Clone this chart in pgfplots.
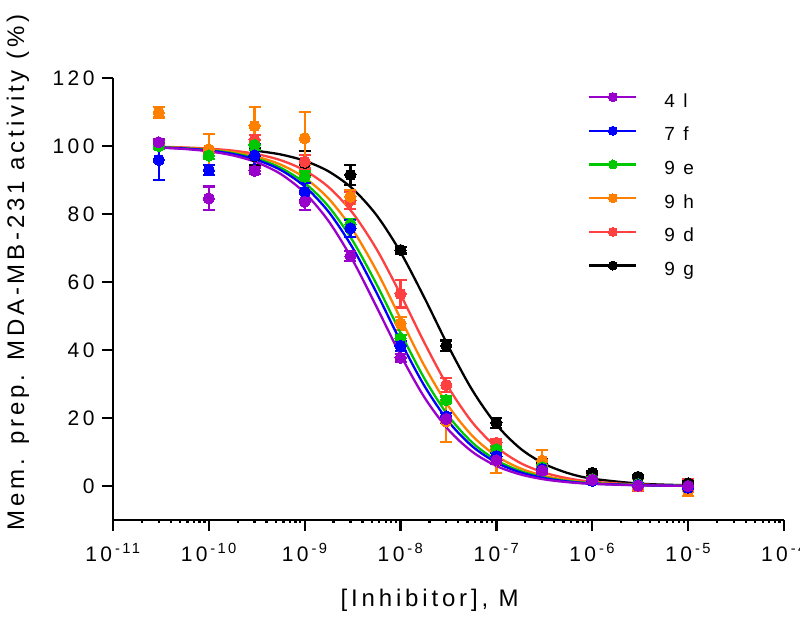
\documentclass[border=0pt]{standalone}
\usepackage{fontspec}
\setmainfont{Liberation Sans}[LetterSpace=16]
\usepackage{pgfplots}
\usepackage{pgfplotstable}
\pgfplotsset{compat=1.18}

\definecolor{cP}{RGB}{153,0,204}
\definecolor{cB}{RGB}{0,0,255}
\definecolor{cG}{RGB}{0,200,0}
\definecolor{cO}{RGB}{255,128,0}
\definecolor{cR}{RGB}{255,64,64}
\definecolor{cK}{RGB}{0,0,0}

% fitted curves
\pgfplotstableread{
x          p      b      g      o      r      k
3.1623e-11 99.50  99.57  99.62  99.68  99.76  nan
5.6234e-11 99.11  99.25  99.32  99.42  99.57  nan
1e-10      98.43  98.67  98.80  98.98  99.23  nan
1.7783e-10 97.24  97.65  97.88  98.20  98.64  nan
3.1623e-10 95.19  95.90  96.29  96.84  97.61  98.58
5.6234e-10 91.76  92.94  93.58  94.52  95.82  97.51
1e-9       86.23  88.10  89.13  90.65  92.81  95.65
1.7783e-9  77.88  80.62  82.18  84.51  87.89  92.52
3.1623e-9  66.44  70.07  72.17  75.41  80.32  87.43
5.6234e-9  52.68  56.82  59.32  63.30  69.65  79.64
1e-8       38.50  42.53  45.06  49.24  56.34  68.75
1.7783e-8  26.03  29.39  31.56  35.29  42.05  55.30
3.1623e-8  16.53  18.96  20.59  23.47  28.98  41.02
5.6234e-8  10.02  11.63  12.73  14.71  18.66  28.12
1e-7       5.89   6.89   7.58   8.84   11.43  18.03
1.7783e-7  3.40   4.00   4.41   5.17   6.77   11.01
3.1623e-7  1.94   2.29   2.53   2.98   3.92   6.50
5.6234e-7  1.10   1.30   1.44   1.70   2.24   3.76
1e-6       0.62   0.73   0.81   0.96   1.27   2.15
3.1623e-6  0.20   0.23   0.26   0.31   0.41   0.69
1e-5       0.06   0.07   0.08   0.10   0.13   0.22
}\fits

% measured points: x, mean, error
\pgfplotstableread{
x     y      e
3e-11 101.1  0.8
1e-10 84.6   3.5
3e-10 92.7   1.0
1e-9  83.6   2.5
3e-9  67.6   1.5
1e-8  37.7   1.2
3e-8  19.7   1.0
1e-7  7.6    1.0
3e-7  4.5    0.8
1e-6  1.8    0.5
3e-6  0.1    0.5
1e-5  0.0    0.5
}\dP
\pgfplotstableread{
x     y      e
3e-11 95.9   5.8
1e-10 92.9   1.5
3e-10 97.2   3.5
1e-9  86.5   2.5
3e-9  75.8   2.5
1e-8  41.2   1.5
3e-8  20.5   1.0
1e-7  8.8    1.0
3e-7  5.0    0.5
1e-6  1.5    0.5
3e-6  0.3    0.5
1e-5  -0.5   0.5
}\dB
\pgfplotstableread{
x     y      e
3e-11 100.0  1.0
1e-10 97.2   1.0
3e-10 100.3  1.5
1e-9  91.0   1.5
3e-9  77.0   1.5
1e-8  43.4   1.0
3e-8  25.3   1.0
1e-7  10.8   1.0
3e-7  5.5    1.0
1e-6  2.0    0.5
3e-6  0.5    0.5
1e-5  0.0    0.5
}\dG
\pgfplotstableread{
x     y      e
3e-11 109.9  1.5
1e-10 99.0   4.5
3e-10 105.9  5.6
1e-9  102.3  7.8
3e-9  85.1   2.0
1e-8  47.8   2.0
3e-8  19.0   6.0
1e-7  7.5    3.7
3e-7  7.5    3.0
1e-6  1.5    1.0
3e-6  0.5    1.5
1e-5  -1.4   1.5
}\dO
\pgfplotstableread{
x     y      e
3e-11 100.5  1.0
1e-10 98.0   1.0
3e-10 101.8  1.5
1e-9  95.4   2.0
3e-9  84.0   2.5
1e-8  56.5   4.0
3e-8  29.7   2.0
1e-7  12.7   1.0
3e-7  6.0    1.0
1e-6  2.0    1.5
3e-6  0.5    2.0
1e-5  -0.5   2.5
}\dR
\pgfplotstableread{
x     y      e
3e-10 97.0   2.5
1e-9  95.0   3.5
3e-9  91.5   3.0
1e-8  69.4   1.0
3e-8  41.3   1.5
1e-7  18.6   1.5
3e-7  7.0    1.0
1e-6  3.9    0.5
3e-6  2.7    0.5
1e-5  0.8    0.5
}\dK

\pgfplotsset{
  fitline/.style={no marks, smooth, line width=2.3pt, forget plot},
  pts/.style={only marks, mark=*, mark size=5.6pt, forget plot,
    mark options={solid, line width=0pt},
    error bars/y dir=both, error bars/y explicit,
    error bars/error bar style={line width=2.2pt},
    error bars/error mark options={rotate=90, mark size=6pt, line width=2.2pt}},
}

\begin{document}
\begin{tikzpicture}
\begin{axis}[
  name=ax,
  xmode=log,
  scale only axis,
  width=671pt, height=442pt,
  xmin=1e-11, xmax=1e-4,
  ymin=-10, ymax=120,
  axis x line=bottom, axis y line=left,
  axis line style={-, line width=2.3pt},
  every tick/.style={black, line width=2.3pt},
  tick align=outside,
  major tick length=11pt,
  minor tick num=0,
  xtick={1e-11,1e-10,1e-9,1e-8,1e-7,1e-6,1e-5,1e-4},
  xticklabels={10\hspace{3pt}\textsuperscript{-11},10\hspace{3pt}\textsuperscript{-10},10\hspace{3pt}\textsuperscript{-9},10\hspace{3pt}\textsuperscript{-8},10\hspace{3pt}\textsuperscript{-7},10\hspace{3pt}\textsuperscript{-6},10\hspace{3pt}\textsuperscript{-5},10\hspace{3pt}\textsuperscript{-4}},
  ytick={0,20,...,120},
  /pgf/number format/assume math mode=true,
  tick label style={font=\fontsize{21}{25}\selectfont},
  xticklabel style={yshift=-9pt},
  yticklabel style={xshift=-4pt},
  xlabel={[Inhibitor], M},
  ylabel={Mem. prep. MDA-MB-231 activity (\%)},
  label style={font=\fontsize{24}{28}\selectfont},
  xlabel style={at={(rel axis cs:0.472,-0.181)}, anchor=center},
  ylabel style={at={(rel axis cs:-0.1416,0.56)}, anchor=center},
  legend image code/.code={\draw[#1, mark repeat=2, mark phase=2] plot coordinates {(0pt,0pt) (23.5pt,0pt) (47pt,0pt)};},
  legend style={draw=none, fill=none, at={(0.708,0.98)}, anchor=north west,
    inner sep=0pt, row sep=13.7pt,
    font=\fontsize{19}{22}\selectfont,
    nodes={inner xsep=0pt, inner ysep=0pt, text height=20pt, text depth=0pt},
    /tikz/every odd column/.append style={column sep=27pt}},
  legend cell align=left,
]
\addlegendimage{cP, line width=2.2pt, mark=*, mark size=4.5pt, mark options={solid, line width=0pt}}
\addlegendentry{4 l}
\addlegendimage{cB, line width=2.2pt, mark=*, mark size=4.5pt, mark options={solid, line width=0pt}}
\addlegendentry{7 f}
\addlegendimage{cG, line width=2.2pt, mark=*, mark size=4.5pt, mark options={solid, line width=0pt}}
\addlegendentry{9 e}
\addlegendimage{cO, line width=2.2pt, mark=*, mark size=4.5pt, mark options={solid, line width=0pt}}
\addlegendentry{9 h}
\addlegendimage{cR, line width=2.2pt, mark=*, mark size=4.5pt, mark options={solid, line width=0pt}}
\addlegendentry{9 d}
\addlegendimage{cK, line width=2.2pt, mark=*, mark size=4.5pt, mark options={solid, line width=0pt}}
\addlegendentry{9 g}

\addplot[cK, fitline] table[x=x, y=k] {\fits};
\addplot[cK, pts] table[x=x, y=y, y error=e] {\dK};
\addplot[cR, fitline] table[x=x, y=r] {\fits};
\addplot[cR, pts] table[x=x, y=y, y error=e] {\dR};
\addplot[cO, fitline] table[x=x, y=o] {\fits};
\addplot[cO, pts] table[x=x, y=y, y error=e] {\dO};
\addplot[cG, fitline] table[x=x, y=g] {\fits};
\addplot[cG, pts] table[x=x, y=y, y error=e] {\dG};
\addplot[cB, fitline] table[x=x, y=b] {\fits};
\addplot[cB, pts] table[x=x, y=y, y error=e] {\dB};
\addplot[cP, fitline] table[x=x, y=p] {\fits};
\addplot[cP, pts] table[x=x, y=y, y error=e] {\dP};
\end{axis}
\pgfresetboundingbox
\path[use as bounding box] ([xshift=-113pt,yshift=-96pt]ax.south west) rectangle ([xshift=687pt,yshift=520pt]ax.south west);
\end{tikzpicture}
\end{document}
